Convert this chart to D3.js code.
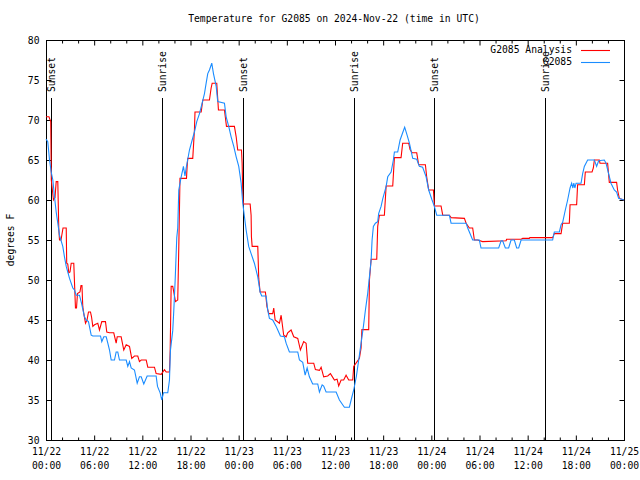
<!DOCTYPE html>
<html><head><meta charset="utf-8">
<script src="https://cdn.jsdelivr.net/npm/d3@7"></script>
<style>
body{margin:0;background:#fff}
svg text{font-family:"DejaVu Sans Mono",monospace;font-size:9.7px;fill:#000}
</style>
</head><body>
<svg id="chart" width="640" height="480"></svg>
<script>
// ---------- data ----------
const chartTitle = "Temperature for G2085 on 2024-Nov-22 (time in UTC)";
const yAxisLabel = "degrees F";
const startTime = "2024-11-22T00:00:00Z";
const endTime = "2024-11-25T00:00:00Z";
const yTicks = [30, 35, 40, 45, 50, 55, 60, 65, 70, 75, 80];
const seriesNames = ["G2085 Analysis", "G2085"];
// sun events: [label, hours after start]
const sunEvents = [["Sunset",0.65],["Sunrise",14.42],["Sunset",24.51],["Sunrise",38.33],["Sunset",48.30],["Sunrise",62.14]];
// [hours after start, temperature °F]
const analysisSeries = [[0,70.4],[0.37,70.4],[0.59,69.8],[0.66,62.5],[0.93,60],[1.12,60.3],[1.27,62.3],[1.47,62.3],[1.59,56.5],[1.68,55],[1.87,55],[2.12,56.5],[2.52,56.5],[2.58,52.1],[2.71,52],[2.84,50.9],[2.99,51],[3.14,52.1],[3.46,52.1],[3.67,46.5],[3.80,46.5],[3.92,48.3],[4.23,48.5],[4.36,49.3],[4.48,49.3],[4.58,46.7],[4.71,45.8],[4.92,44.6],[5.11,45],[5.29,46],[5.54,46],[5.67,45.4],[5.83,44.2],[6.04,44.4],[6.45,44.6],[6.66,43.75],[6.95,44.8],[7.41,44.8],[7.57,43.5],[7.91,43.4],[8.44,43.4],[8.74,42.1],[8.87,42.9],[9.36,42.9],[9.69,41.25],[9.99,41.9],[10.40,41.7],[10.68,40.2],[11.02,40.5],[11.43,40.5],[11.64,39.8],[11.86,40],[12.48,40],[12.68,39.1],[13.51,39.1],[13.72,38.3],[14.35,38.2],[14.76,38.8],[14.97,38.5],[15.38,38.5],[15.47,41.25],[15.59,49.2],[15.79,49.2],[16.13,47.3],[16.41,47.5],[16.54,54],[16.69,62.7],[17.50,62.7],[17.58,64.2],[17.66,65.2],[18.28,65.2],[18.49,68.75],[18.56,71],[19.33,71],[19.53,72.5],[20.36,72.5],[20.57,74],[20.70,74.6],[21.27,74.6],[21.48,71.25],[22.23,71.25],[22.48,69.2],[23.47,69.2],[23.69,67.9],[23.88,66.25],[24.35,66.25],[24.43,64.6],[24.51,60.8],[24.59,59.5],[25.43,59.5],[25.55,58.1],[25.59,55.4],[25.68,54.2],[26.38,54.2],[26.50,50.2],[26.67,48.5],[27.33,48.5],[27.52,46.7],[27.75,45.8],[28.24,45.8],[28.37,46.5],[28.54,45],[29.08,44.6],[29.29,45.6],[29.61,43.1],[29.91,42.9],[30.11,43.4],[30.53,43.75],[30.86,42.9],[31.36,42.7],[31.69,41.25],[32.10,42.3],[32.40,42.1],[32.60,39.6],[33.35,39.6],[33.56,38.8],[34.06,38.7],[34.27,39.1],[34.59,37.9],[35.09,38],[35.43,38.3],[35.93,37.5],[36.26,37.6],[36.46,36.75],[36.76,37.5],[37.08,37.5],[37.38,38.1],[37.71,37.5],[38.21,37.5],[38.33,39.2],[39.04,40.2],[39.25,41.5],[39.35,43.8],[40.20,43.8],[40.29,50],[40.50,52.6],[41.20,52.6],[41.32,56.7],[41.53,58.1],[42.15,58.1],[42.37,61.75],[43.19,61.75],[43.40,65.3],[44.23,65.3],[44.43,67.1],[45.18,67.1],[45.35,66.3],[45.60,65.9],[46.18,65.9],[46.42,64.4],[47.26,64.4],[47.42,62.9],[47.67,61.25],[48.26,61.25],[48.38,59.25],[49.21,59.25],[49.42,58.1],[50.25,58.1],[50.46,57.8],[52.12,57.7],[52.33,57.1],[52.74,56.5],[53.15,56.5],[53.36,55],[53.77,55],[54.39,54.8],[57.31,54.9],[57.38,55.1],[59.18,55.1],[59.38,55.2],[60.21,55.2],[60.27,55.3],[63.11,55.3],[63.32,55.8],[64.16,55.8],[64.36,57.1],[65.19,57.1],[65.28,59.4],[66.10,59.4],[66.22,61.9],[67.06,61.9],[67.18,63.5],[68.02,63.5],[68.18,64],[68.31,65],[68.93,65],[69.01,64.6],[69.96,64.6],[70.17,62.2],[71.08,62.2],[71.20,61.25],[71.42,60.2],[72,60]];
const observedSeries = [[0,67.6],[0.22,67.3],[0.44,65],[0.65,63.5],[0.85,62.5],[1.06,60.4],[1.27,58.5],[1.47,57.1],[1.68,55.6],[2.09,54.2],[2.30,52.9],[2.52,51.7],[2.93,50.2],[3.34,49],[3.55,48.75],[3.76,48.1],[4.17,48.1],[4.42,47.1],[4.79,45.4],[5.01,45],[5.29,44.8],[5.63,43.1],[5.83,43],[6.79,43],[6.95,42.3],[7.20,42.9],[7.50,42.9],[7.70,42.1],[7.91,41.25],[8.12,40],[8.53,40],[8.74,41],[8.94,41],[9.15,40],[9.99,40],[10.19,39.2],[10.40,39.8],[10.61,39],[11.02,38.75],[11.36,37.1],[11.64,37.9],[11.86,37.9],[12.18,37],[12.60,38],[13.72,38],[13.89,36.7],[14.22,35.9],[14.42,35],[14.63,35.9],[15.17,35.9],[15.38,37.5],[15.50,41.2],[15.79,43.7],[15.92,46.2],[16.09,50],[16.29,55.3],[16.41,56.5],[16.54,61.25],[16.84,62.9],[17.12,64.2],[17.31,63],[17.46,64],[17.87,66.25],[18.21,67.5],[18.49,68.5],[18.78,69.8],[19.12,70.8],[19.45,72.1],[19.74,73.3],[19.95,74.6],[20.15,75.8],[20.36,76.25],[20.65,77.1],[20.86,75.8],[21.20,74.2],[21.39,72.3],[22.23,72.1],[22.44,70.4],[22.76,69.2],[23.06,67.9],[23.39,66.7],[23.69,65.4],[24.01,64.2],[24.31,62.1],[24.51,59.6],[24.72,57.9],[24.93,56.25],[25.25,54.2],[25.55,53.3],[25.96,52.1],[26.38,50.4],[26.67,48.5],[26.87,48],[27.42,48],[27.62,46.25],[27.83,45.2],[28.24,45],[28.67,44.2],[28.87,43.75],[29.20,43],[29.70,42.9],[29.91,42.1],[30.32,41],[31.36,41],[31.57,40],[31.98,39.7],[32.28,38.1],[32.53,39],[32.81,37.9],[33.22,37],[33.85,37],[34.06,36],[34.40,36.9],[34.59,36.75],[34.89,36],[36.14,36],[36.55,35],[37.17,34.1],[37.79,34.1],[38.01,35],[38.33,36.25],[38.67,38],[39.04,40.6],[39.25,42.1],[39.54,44.2],[39.79,46.25],[40.07,48.3],[40.29,50.4],[40.50,52.5],[40.62,55],[40.78,56.7],[41.03,57.1],[41.32,57.3],[41.44,58.3],[41.74,59.2],[41.94,60.1],[42.37,61.7],[42.57,62.9],[42.99,63.5],[43.27,65],[43.40,66],[43.81,66],[44.11,67.5],[44.43,68.4],[44.68,69.1],[44.98,68.1],[45.27,67.1],[45.68,65.2],[46.18,65.1],[46.51,64.2],[46.92,64.1],[47.35,62.9],[47.67,61.25],[48.09,60],[48.38,59.2],[48.67,58.1],[50.25,58.1],[50.46,57.1],[52.33,57.1],[52.53,56.5],[52.74,56],[53.15,55],[53.98,55],[54.19,54],[56.39,54],[56.69,54.9],[56.88,54.9],[57.22,54],[57.63,54],[57.93,55],[58.34,55],[58.63,54],[58.88,54],[59.18,55],[63.11,55],[63.32,56],[63.95,56],[64.16,56.9],[64.36,57.2],[64.69,58.75],[64.98,60],[65.28,61.5],[65.48,62.1],[65.63,61.5],[65.75,62.1],[65.88,61.5],[66.03,62.1],[66.65,62.1],[66.85,63.3],[67.06,64.2],[67.47,65],[68.31,65],[68.59,64.2],[68.84,64.9],[69.55,65],[69.76,64.6],[70.08,63.3],[70.38,62.1],[70.79,61.25],[71.08,61],[71.33,60.2],[72,60]];

// ---------- drawing ----------
const svg = d3.select("#chart");
const L = 46, R = 624, T = 40, B = 440;
const t0 = new Date(startTime), t1 = new Date(endTime);
const hourToDate = h => new Date(t0.getTime() + h * 3600e3);
const x = d3.scaleUtc().domain([t0, t1]).range([L, R]);
const y = d3.scaleLinear().domain([30, 80]).range([B, T]);

const majorTimes = d3.utcHour.every(6).range(t0, d3.utcHour.offset(t1, 1));
const minorTimes = d3.utcHour.every(2).range(t0, t1).filter(d => d.getUTCHours() % 6 !== 0);

// title
svg.append("text").attr("x", 334).attr("y", 19).attr("dy", "0.35em")
  .attr("text-anchor", "middle").text(chartTitle);
// y label
svg.append("text").attr("transform", "translate(11,240) rotate(-90)")
  .attr("dy", "0.35em").attr("text-anchor", "middle").text(yAxisLabel);

// bottom axis with labels
const gB = svg.append("g").attr("transform", `translate(0,${B + 0.5})`)
  .call(d3.axisBottom(x).tickValues(majorTimes).tickSizeInner(-5).tickSizeOuter(0).tickPadding(8).offset(0.5));
gB.select(".domain").remove();
gB.selectAll("text").attr("font-size", null).attr("font-family", null).attr("dy", null).text(null)
  .each(function(d) {
    const s = d3.select(this);
    s.append("tspan").attr("x", 0).attr("dy", "0.71em").text(d3.utcFormat("%m/%d")(d));
    s.append("tspan").attr("x", 0).attr("dy", "1.42em").text(d3.utcFormat("%H:%M")(d));
  });
const gBm = svg.append("g").attr("transform", `translate(0,${B + 0.5})`)
  .call(d3.axisBottom(x).tickValues(minorTimes).tickSizeInner(-3).tickSizeOuter(0).tickFormat("").offset(0.5));
gBm.select(".domain").remove();
// top mirror ticks
const gT = svg.append("g").attr("transform", `translate(0,${T + 0.5})`)
  .call(d3.axisTop(x).tickValues(majorTimes).tickSizeInner(-5).tickSizeOuter(0).tickFormat("").offset(0.5));
gT.select(".domain").remove();
const gTm = svg.append("g").attr("transform", `translate(0,${T + 0.5})`)
  .call(d3.axisTop(x).tickValues(minorTimes).tickSizeInner(-3).tickSizeOuter(0).tickFormat("").offset(0.5));
gTm.select(".domain").remove();
// left axis with labels
const gL = svg.append("g").attr("transform", `translate(${L + 0.5},0)`)
  .call(d3.axisLeft(y).tickValues(yTicks).tickSizeInner(-5).tickSizeOuter(0).tickPadding(7).tickFormat(d3.format("d")).offset(0.5));
gL.select(".domain").remove();
gL.selectAll("text").attr("font-size", null).attr("font-family", null);
// right mirror ticks
const gR = svg.append("g").attr("transform", `translate(${R + 0.5},0)`)
  .call(d3.axisRight(y).tickValues(yTicks).tickSizeInner(-5).tickSizeOuter(0).tickFormat("").offset(0.5));
gR.select(".domain").remove();
svg.selectAll(".tick line").attr("stroke", "#000");

// border
svg.append("rect").attr("x", L + 0.5).attr("y", T + 0.5).attr("width", R - L).attr("height", B - T)
  .attr("fill", "none").attr("stroke", "#000").attr("stroke-width", 1);

// sun event lines and labels
sunEvents.forEach(([label, h]) => {
  const xp = Math.round(x(hourToDate(h))) + 0.5;
  svg.append("line").attr("x1", xp).attr("x2", xp).attr("y1", 98).attr("y2", B)
    .attr("stroke", "#000").attr("stroke-width", 1);
  svg.append("text").attr("transform", `translate(${xp},92) rotate(-90)`)
    .attr("dy", "0.35em").attr("text-anchor", "start").text(label);
});

// series
const line = d3.line().x(d => x(hourToDate(d[0]))).y(d => y(d[1]));
const colors = ["#ff0000", "#1a8cff"];
[analysisSeries, observedSeries].forEach((s, i) => {
  svg.append("path").datum(s).attr("d", line).attr("fill", "none")
    .attr("stroke", colors[i]).attr("stroke-width", 1.1).attr("stroke-linejoin", "miter");
});

// legend
seriesNames.forEach((name, i) => {
  const ly = 50 + i * 12;
  svg.append("text").attr("x", 572).attr("y", ly).attr("dy", "0.35em").attr("text-anchor", "end").text(name);
  svg.append("line").attr("x1", 581).attr("x2", 610).attr("y1", ly + 0.5).attr("y2", ly + 0.5)
    .attr("stroke", colors[i]).attr("stroke-width", 1.1);
});
</script>
</body></html>
